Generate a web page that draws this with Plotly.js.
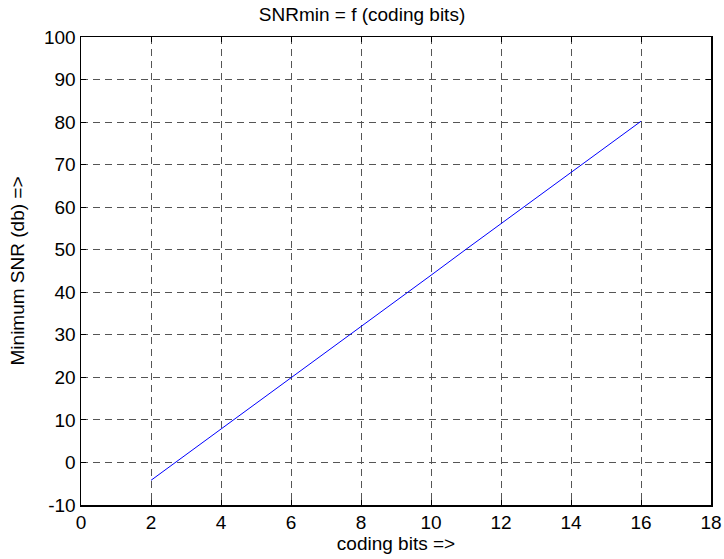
<!DOCTYPE html>
<html>
<head>
<meta charset="utf-8">
<script src="https://cdn.plot.ly/plotly-3.0.1.min.js"></script>
<style>html,body{margin:0;padding:0;background:#fff;}#chart{width:724px;height:559px;}</style>
</head>
<body>
<div id="chart"></div>
<script>
const codingBits = [2, 3, 4, 5, 6, 7, 8, 9, 10, 11, 12, 13, 14, 15, 16];
const snrMin = [-4.2, 1.8, 7.9, 13.9, 19.9, 26.0, 32.0, 38.0, 44.0, 50.1, 56.1, 62.1, 68.1, 74.2, 80.2];
const xTicks = [0, 2, 4, 6, 8, 10, 12, 14, 16, 18];
const yTicks = [-10, 0, 10, 20, 30, 40, 50, 60, 70, 80, 90, 100];

const font = {family: 'Liberation Sans, Arial, sans-serif', size: 19, color: '#000'};
const axisCommon = {
  showline: true, linecolor: '#000', linewidth: 1.5, mirror: 'allticks',
  ticks: 'inside', ticklen: 5, tickcolor: '#000', tickwidth: 1,
  showgrid: true, gridcolor: '#555', griddash: '7px,5px', gridwidth: 1,
  zeroline: false, tickfont: font
};
Plotly.newPlot('chart', [{
  x: codingBits, y: snrMin, type: 'scatter', mode: 'lines',
  line: {color: '#0000ff', width: 1}
}], {
  width: 724, height: 559,
  margin: {l: 81, r: 13, t: 37, b: 54},
  paper_bgcolor: '#fff', plot_bgcolor: '#fff',
  font: font,
  showlegend: false,
  title: {text: 'SNRmin = f (coding bits)', font: font, x: 0.5, xanchor: 'center', y: 0.974, yanchor: 'middle'},
  xaxis: Object.assign({}, axisCommon, {range: [0, 18], tickvals: xTicks, ticktext: xTicks.map(String),
    title: {text: 'coding bits =>', font: font, standoff: 3}}),
  yaxis: Object.assign({}, axisCommon, {range: [-10, 100], tickvals: yTicks, ticktext: yTicks.map(String),
    title: {text: 'Minimum SNR (db) =>', font: font, standoff: 14}})
}, {staticPlot: true, displayModeBar: false});
</script>
</body>
</html>
